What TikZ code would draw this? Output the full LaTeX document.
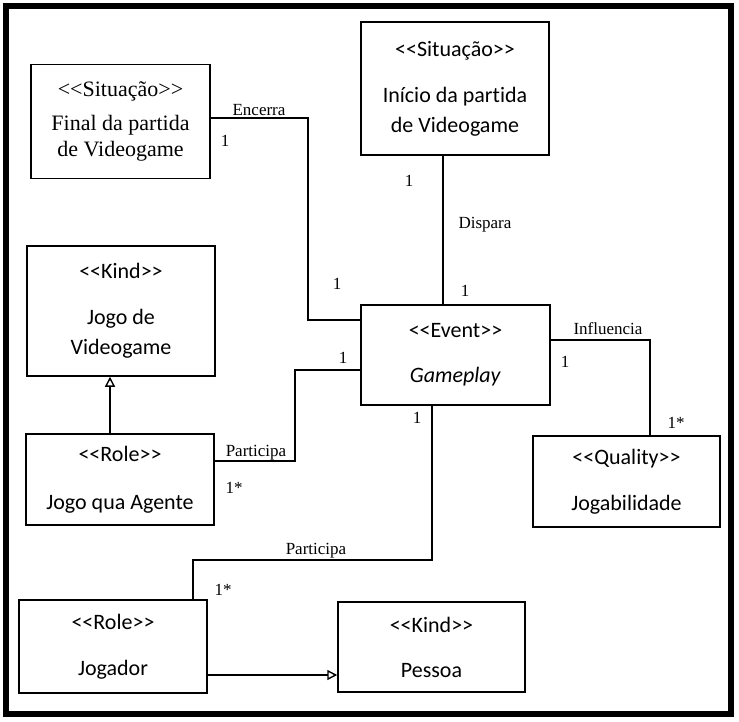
\documentclass[tikz,border=0pt]{standalone}
\usepackage{fontspec}
\setmainfont{Carlito}[Ligatures=NoCommon]
\newfontfamily\serifname{Liberation Serif}
\usetikzlibrary{arrows.meta, positioning}

\begin{document}
\begin{tikzpicture}[
    x=1pt, y=-1pt,
    box/.style={rectangle, draw, line width=1.5pt, align=center, inner sep=0pt, font=\fontsize{22}{30}\selectfont},
    assoc/.style={line width=1.4pt},
    gen/.style={-{Triangle[open, length=10pt, width=10pt]}, line width=1.4pt},
    lbl/.style={font=\serifname\fontsize{17}{19}\selectfont, inner sep=0pt}
]
\useasboundingbox (0,0) rectangle (739,722);
\draw[line width=5.5pt] (6,6) rectangle (731,714);

\node[box, minimum width=179pt, minimum height=114pt, font=\serifname\fontsize{22}{26}\selectfont] (final) at (120.5,121.5)
    {{<}{<}Situação{>}{>}\\[8pt]Final da partida\\de Videogame};
\node[box, minimum width=188pt, minimum height=133pt] (inicio) at (455,88.5)
    {{<}{<}Situação{>}{>}\\[16pt]Início da partida\\de Videogame};
\node[box, minimum width=188pt, minimum height=130pt] (videogame) at (121,311)
    {{<}{<}Kind{>}{>}\\[16pt]Jogo de\\Videogame};
\node[box, minimum width=189pt, minimum height=100pt] (gameplay) at (455.5,355)
    {{<}{<}Event{>}{>}\\[15pt]\textit{Gameplay}};
\node[box, minimum width=188pt, minimum height=91pt] (agente) at (120,479.5)
    {{<}{<}Role{>}{>}\\[18pt]Jogo qua Agente};
\node[box, minimum width=187pt, minimum height=91pt] (jogabilidade) at (626.5,481.5)
    {{<}{<}Quality{>}{>}\\[16pt]Jogabilidade};
\node[box, minimum width=188pt, minimum height=93pt] (jogador) at (113,646.5)
    {{<}{<}Role{>}{>}\\[16pt]Jogador};
\node[box, minimum width=187pt, minimum height=90pt] (pessoa) at (431.5,647)
    {{<}{<}Kind{>}{>}\\[15pt]Pessoa};

% associacoes
\draw[assoc] (final.east |- 0,118) -| (308,320) -- (gameplay.west |- 0,320);
\node[lbl] (encerra) at (259,110) {Encerra};
\node[lbl] (m1) at (225,141) {1};
\node[lbl] (m2) at (337,284) {1};

\draw[assoc] (inicio.south -| 443,0) -- (gameplay.north -| 443,0);
\node[lbl] (dispara) at (485,225) {Dispara};
\node[lbl] (m3) at (409,181) {1};
\node[lbl] (m4) at (465,291) {1};

\draw[assoc] (agente.east |- 0,461) -| (295,370) -- (gameplay.west |- 0,370);
\node[lbl] (participa1) at (256,453) {Participa};
\node[lbl] (m5) at (343,358) {1};
\node[lbl] (m6) at (234,488) {1*};

\draw[assoc] (gameplay.east |- 0,340) -| (jogabilidade.north -| 650,0);
\node[lbl] (influencia) at (608,329) {Influencia};
\node[lbl] (m7) at (565,362) {1};
\node[lbl] (m8) at (676,423) {1*};

\draw[assoc] (gameplay.south -| 432,0) |- (193,560) -- (jogador.north -| 193,0);
\node[lbl] (participa2) at (316,551) {Participa};
\node[lbl] (m9) at (417,418) {1};
\node[lbl] (m10) at (223,590) {1*};

% generalizacoes
\draw[gen] (agente.north -| 110,0) -- (videogame.south -| 110,0);
\draw[gen] (jogador.east |- 0,675) -- (pessoa.west |- 0,675);

\end{tikzpicture}
\end{document}
